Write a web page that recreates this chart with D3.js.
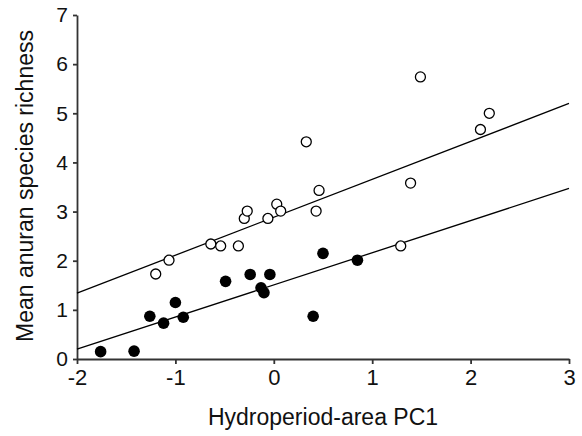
<!DOCTYPE html>
<html>
<head>
<meta charset="utf-8">
<script src="https://cdn.jsdelivr.net/npm/d3@7"></script>
<style>
  body { margin: 0; background: #fff; }
  text { font-family: "Liberation Sans", Arial, sans-serif; }
</style>
</head>
<body>
<div id="chart"></div>
<script>
// open circles
const openX = [-1.20, -1.065, -0.64, -0.54, -0.36, -0.30, -0.27, -0.06, 0.03, 0.07, 0.33, 0.46, 0.43, 1.49, 1.39, 2.10, 2.19, 1.29];
const openY = [1.73, 2.01, 2.34, 2.30, 2.30, 2.86, 3.01, 2.86, 3.15, 3.01, 4.42, 3.43, 3.01, 5.74, 3.58, 4.67, 5.00, 2.30];
// filled circles
const filledX = [-1.76, -1.42, -1.26, -1.12, -1.00, -0.92, -0.49, -0.24, -0.04, -0.13, -0.10, 0.50, 0.85, 0.40];
const filledY = [0.15, 0.16, 0.87, 0.73, 1.15, 0.85, 1.58, 1.72, 1.72, 1.45, 1.35, 2.15, 2.01, 0.87];
// fitted lines: [y at x=-2, y at x=3]
const lineX = [-2, 3];
const openFit = [1.34, 5.20];
const filledFit = [0.20, 3.47];
const xTicks = [-2, -1, 0, 1, 2, 3];
const yTicks = [0, 1, 2, 3, 4, 5, 6, 7];

const width = 582, height = 436,
  margin = ({ top: 15, right: 13, bottom: 77, left: 77 });

const x = d3.scaleLinear()
  .domain([-2, 3])
  .range([margin.left, width - margin.right]);

const y = d3.scaleLinear()
  .domain([0, 7])
  .range([height - margin.bottom, margin.top]);

const svg = d3.select("#chart")
  .append("svg")
  .attr("width", width)
  .attr("height", height);

const xAxis = g => g
  .attr("transform", `translate(0,${y(0)})`)
  .call(d3.axisBottom(x).tickValues(xTicks).tickFormat(d => d).tickSize(5).tickPadding(5).tickSizeOuter(0))
  .call(g => g.selectAll("text").attr("font-size", 22).attr("fill", "#111"))
  .call(g => g.selectAll("line, path").attr("stroke", "#333").attr("stroke-width", 1.8));

const yAxis = g => g
  .attr("transform", `translate(${x(-2)},0)`)
  .call(d3.axisLeft(y).tickValues(yTicks).tickFormat(d => d).tickSize(4).tickPadding(5).tickSizeOuter(0))
  .call(g => g.selectAll("text").attr("font-size", 21).attr("fill", "#111"))
  .call(g => g.selectAll("line, path").attr("stroke", "#333").attr("stroke-width", 1.8));

svg.append("g").call(xAxis);
svg.append("g").call(yAxis);

const line = d3.line()
  .x(d => x(d[0]))
  .y(d => y(d[1]));

[openFit, filledFit].forEach(fit => {
  svg.append("path")
    .datum(lineX.map((v, i) => [v, fit[i]]))
    .attr("d", line)
    .attr("fill", "none")
    .attr("stroke", "#000")
    .attr("stroke-width", 1.3);
});

svg.append("g")
  .selectAll("circle")
  .data(filledX.map((v, i) => [v, filledY[i]]))
  .join("circle")
  .attr("cx", d => x(d[0]))
  .attr("cy", d => y(d[1]))
  .attr("r", 5.8)
  .attr("fill", "#000");

svg.append("g")
  .selectAll("circle")
  .data(openX.map((v, i) => [v, openY[i]]))
  .join("circle")
  .attr("cx", d => x(d[0]))
  .attr("cy", d => y(d[1]))
  .attr("r", 5)
  .attr("fill", "#fff")
  .attr("stroke", "#000")
  .attr("stroke-width", 1.3);

svg.append("text")
  .attr("x", (x(-2) + x(3)) / 2)
  .attr("y", 425)
  .attr("text-anchor", "middle")
  .attr("font-size", 23)
  .attr("fill", "#111")
  .text("Hydroperiod-area PC1");

svg.append("text")
  .attr("transform", `translate(33,186) rotate(-90)`)
  .attr("text-anchor", "middle")
  .attr("font-size", 23)
  .attr("fill", "#111")
  .text("Mean anuran species richness");
</script>
</body>
</html>
